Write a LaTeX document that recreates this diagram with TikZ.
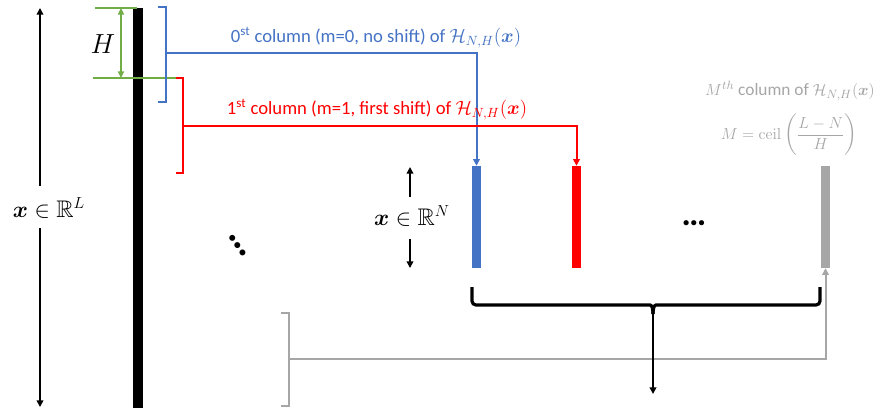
\documentclass[tikz,border=0pt]{standalone}
\usepackage{amsmath,amssymb,bm}
\usepackage[no-math]{fontspec}
\setmainfont{Carlito}
\usetikzlibrary{arrows.meta}
\definecolor{offblue}{HTML}{4472C4}
\definecolor{offred}{HTML}{FF0000}
\definecolor{offgreen}{HTML}{70AD47}
\definecolor{offgray}{HTML}{A6A6A6}

\begin{document}
\begin{tikzpicture}[x=0.75pt,y=-0.75pt,
  lbl/.style={font=\fontsize{14}{16}\selectfont},
  big/.style={font=\fontsize{18}{20}\selectfont},
  bar/.style={inner sep=0pt,minimum width=6.75pt,minimum height=76.5pt},
  wire/.style={line width=1.5pt},
  tip/.style={-{Triangle[length=5pt,width=5pt]}},
  dotrow/.style={font=\fontsize{26}{28}\selectfont\bfseries,inner sep=0pt,text height=3pt,text depth=0pt}]
  \useasboundingbox (0,0) rectangle (881,408);
  % the signal x in R^L
  \node[fill=black,inner sep=0pt,minimum width=7.5pt,minimum height=300pt] (sig) at (138,208) {};
  \node[big] (xL) at (49,208) {$\bm{x}\in\mathbb{R}^L$};
  \coordinate (Ltop) at (40,8);
  \coordinate (Lbot) at (40,407);
  \draw[line width=1.1pt,tip] (40,186) -- (Ltop);
  \draw[line width=1.1pt,tip] (40,228) -- (Lbot);
  % hop size H
  \draw[wire,offgreen] (95,8) -- (137,8);
  \draw[wire,offgreen] (93,78) -- (177,78);
  \coordinate (h0) at (121,8);
  \coordinate (h1) at (121,78);
  \draw[line width=1.1pt,offgreen,{Triangle[length=5pt,width=4.5pt]}-{Triangle[length=5pt,width=4.5pt]}] (h0) -- (h1);
  \node[font=\fontsize{21}{24}\selectfont] (hlab) at (103,44) {$H$};
  % columns
  \node[bar,fill=offblue] (col0) at (476.5,217) {};
  \node[bar,fill=offred] (col1) at (576.5,217) {};
  \node[bar,fill=offgray] (colM) at (825.5,217) {};
  % m=0
  \draw[wire,offblue] (158,7) -| (166,102) -- (158,102);
  \coordinate (m0) at (166,53);
  \draw[wire,offblue,tip] (m0) -| (col0.north);
  \node[lbl,text=offblue] (t0) at (376,38) {0\textsuperscript{st} column (m=0, no shift) of $\mathcal{H}_{N,H}(\bm{x})$};
  % m=1
  \draw[wire,offred] (176,78) -| (183,173) -- (176,173);
  \coordinate (m1) at (183,126);
  \draw[wire,offred,tip] (m1) -| (col1.north);
  \node[lbl,text=offred] (t1) at (377,110) {1\textsuperscript{st} column (m=1, first shift) of $\mathcal{H}_{N,H}(\bm{x})$};
  % last column
  \draw[wire,offgray] (281,313) -| (289,406) -- (281,406);
  \coordinate (mM) at (289,359);
  \draw[wire,offgray,tip] (mM) -| (colM.south);
  \node[font=\fontsize{13}{15}\selectfont,text=offgray,inner sep=0pt] (tM) at (790,91) {$M^{th}$ column of $\mathcal{H}_{N,H}(\bm{x})$};
  \node[font=\fontsize{13}{15}\selectfont,text=offgray,inner sep=0pt] (tC) at (789,135) {$M=\operatorname{ceil}\left(\dfrac{L-N}{H}\right)$};
  % window length N
  \node[big] (xN) at (412,216) {$\bm{x}\in\mathbb{R}^N$};
  \draw[line width=1.1pt,tip] (410,197) -- (410,167);
  \draw[line width=1.1pt,tip] (410,239) -- (410,268);
  % dots
  \node[dotrow,font=\fontsize{30}{32}\selectfont\bfseries,rotate=-55] (dotsA) at (237,246) {…};
  \node[dotrow] (dotsB) at (694,223) {…};
  % brace over all columns
  \draw[line width=2.4pt,rounded corners=3pt] (472,287) |- (646,305) .. controls (652,305) and (653,309) .. (653,314);
  \draw[line width=2.4pt,rounded corners=3pt] (820,287) |- (660,305) .. controls (654,305) and (653,309) .. (653,314);
  \coordinate (bc) at (653,312);
  \coordinate (out) at (653,394);
  \draw[line width=1.8pt,tip] (bc) -- (out);
\end{tikzpicture}
\end{document}
